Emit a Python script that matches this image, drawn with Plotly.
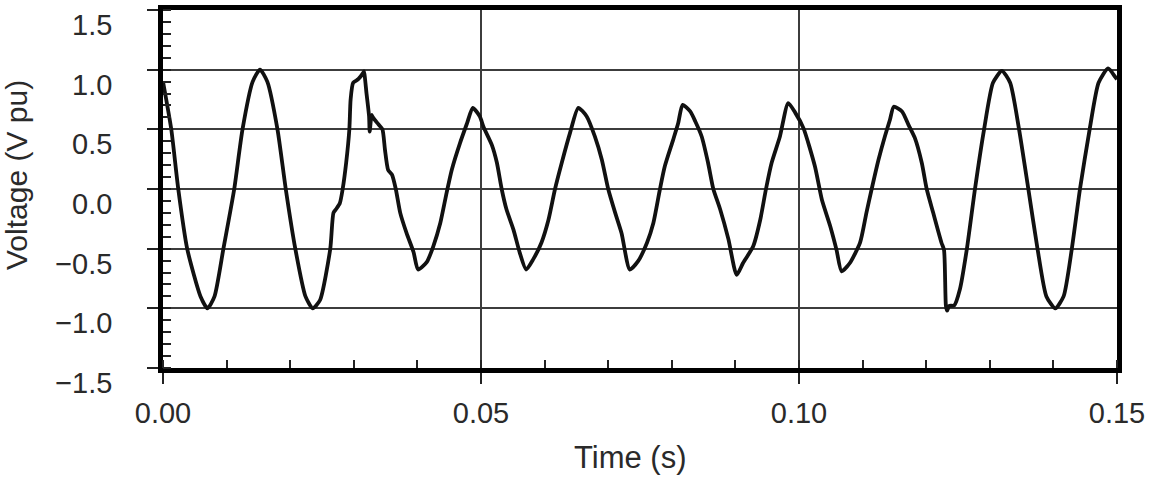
import plotly.graph_objects as go

# Time (s) and voltage (V pu)
time_s = [
    0.0000, 0.0013, 0.0024, 0.0038, 0.0059, 0.0070, 0.0081, 0.0095, 0.0112, 0.0125,
    0.0141, 0.01525, 0.0164, 0.0180, 0.0193, 0.0208, 0.0224, 0.02354, 0.0247, 0.0263,
    0.0268, 0.0272, 0.0278, 0.02825, 0.0288, 0.0293, 0.0295, 0.0299, 0.0307, 0.0315,
    0.0316, 0.0320, 0.0324, 0.0325, 0.0328, 0.0330, 0.0339, 0.0345, 0.0349, 0.0354,
    0.0360, 0.0366, 0.0373, 0.0383, 0.0394, 0.0401, 0.0415, 0.0425, 0.0436, 0.0446,
    0.0454, 0.0467, 0.0478, 0.0487, 0.0498, 0.0504, 0.0517, 0.0525, 0.05325, 0.0540,
    0.0551, 0.0561, 0.0571, 0.0582, 0.0595, 0.0606, 0.06164, 0.0627, 0.0640, 0.0653,
    0.0666, 0.0679, 0.0690, 0.0700, 0.0711, 0.0721, 0.0734, 0.0747, 0.0761, 0.0771,
    0.07814, 0.0789, 0.0802, 0.0810, 0.0817, 0.0829, 0.0837, 0.0847, 0.0857, 0.08653,
    0.0876, 0.0889, 0.0902, 0.0912, 0.0928, 0.0939, 0.09481, 0.0957, 0.0970, 0.0983,
    0.0994, 0.1007, 0.1025, 0.1036, 0.1049, 0.1059, 0.1067, 0.1080, 0.1096, 0.1106,
    0.11143, 0.1125, 0.1135, 0.1143, 0.1149, 0.1162, 0.1172, 0.1182, 0.1193, 0.12008,
    0.1211, 0.1224, 0.1228, 0.1231, 0.1233, 0.1236, 0.1244, 0.1253, 0.1264, 0.12767,
    0.1291, 0.1305, 0.1319, 0.1332, 0.1346, 0.13606, 0.1375, 0.1389, 0.1403, 0.1416,
    0.1429, 0.14418, 0.1457, 0.1471, 0.1486, 0.1497, 0.1500,
]
voltage_pu = [
    0.90, 0.50, 0.00, -0.50, -0.90, -1.00, -0.90, -0.50, 0.00, 0.50,
    0.90, 1.00, 0.90, 0.50, 0.00, -0.50, -0.90, -1.00, -0.93, -0.50,
    -0.20, -0.17, -0.12, 0.00, 0.22, 0.50, 0.75, 0.89, 0.92, 0.975,
    0.985, 0.80, 0.61, 0.48, 0.62, 0.60, 0.54, 0.50, 0.33, 0.16,
    0.12, 0.00, -0.20, -0.37, -0.53, -0.675, -0.61, -0.48, -0.285, -0.03,
    0.16, 0.385, 0.55, 0.68, 0.61, 0.52, 0.37, 0.22, 0.00, -0.17,
    -0.34, -0.535, -0.675, -0.59, -0.45, -0.26, 0.00, 0.22, 0.47, 0.68,
    0.61, 0.44, 0.245, 0.00, -0.20, -0.37, -0.675, -0.605, -0.45, -0.285,
    0.00, 0.19, 0.41, 0.55, 0.705, 0.65, 0.566, 0.44, 0.22, 0.00,
    -0.17, -0.42, -0.72, -0.62, -0.48, -0.26, 0.00, 0.22, 0.44, 0.72,
    0.64, 0.51, 0.19, -0.09, -0.31, -0.51, -0.69, -0.62, -0.45, -0.20,
    0.00, 0.245, 0.44, 0.58, 0.69, 0.65, 0.54, 0.43, 0.22, 0.00,
    -0.20, -0.45, -0.51, -0.98, -1.02, -0.98, -0.976, -0.84, -0.50, 0.00,
    0.50, 0.89, 0.99, 0.89, 0.50, 0.00, -0.50, -0.90, -1.00, -0.90,
    -0.50, 0.00, 0.50, 0.89, 1.01, 0.94, 0.92,
]

x_tickvals = [0.0, 0.05, 0.10, 0.15]
x_ticktext = ["0.00", "0.05", "0.10", "0.15"]
y_tickvals = [-1.5, -1.0, -0.5, 0.0, 0.5, 1.0, 1.5]
y_ticktext = ["\u22121.5", "\u22121.0", "\u22120.5", "0.0", "0.5", "1.0", "1.5"]

FONT = "Liberation Sans, Arial, Helvetica, sans-serif"
TXT = "#2a2a2a"

fig = go.Figure()
fig.add_trace(go.Scatter(
    x=time_s, y=voltage_pu, mode="lines",
    line=dict(color="#111111", width=3.8, shape="spline", smoothing=0.6),
    showlegend=False, hoverinfo="skip",
))

fig.update_layout(
    width=1150, height=477,
    margin=dict(l=163, r=33, t=10, b=109, autoexpand=False),
    paper_bgcolor="white", plot_bgcolor="white",
    font=dict(family=FONT, size=29, color=TXT),
    xaxis=dict(
        range=[0, 0.15], tickvals=x_tickvals, ticktext=x_ticktext,
        tickfont=dict(size=29), automargin=False,
        showgrid=True, gridcolor="#3c3c3c", gridwidth=1.6,
        showline=True, linecolor="black", linewidth=4.5, mirror=True,
        ticks="outside", ticklen=11, tickwidth=1.5, tickcolor="#222",
        ticklabelstandoff=4,
        minor=dict(ticks="inside", dtick=0.01, ticklen=8, tickwidth=1.5,
                   tickcolor="#222", showgrid=False),
        zeroline=False,
    ),
    yaxis=dict(
        range=[-1.5, 1.5], tickvals=y_tickvals, ticktext=y_ticktext,
        tickfont=dict(size=29), automargin=False,
        showgrid=True, gridcolor="#3c3c3c", gridwidth=1.6,
        showline=True, linecolor="black", linewidth=4.5, mirror=True,
        ticks="outside", ticklen=11, tickwidth=1.5, tickcolor="#222",
        ticklabelstandoff=29, ticklabelshift=15, ticklabeloverflow="allow",
        minor=dict(ticks="inside", dtick=0.1, ticklen=8, tickwidth=1.5,
                   tickcolor="#222", showgrid=False),
        zeroline=False,
    ),
    annotations=[
        dict(text="Time (s)", xref="paper", yref="paper",
             x=(630 - 163) / 954, y=(368 - 457) / 358,
             xanchor="center", yanchor="middle", showarrow=False,
             font=dict(family=FONT, size=31, color=TXT)),
        dict(text="Voltage (V pu)", xref="paper", yref="paper",
             x=(16 - 163) / 954, y=(368 - 175) / 358, textangle=-90,
             xanchor="center", yanchor="middle", showarrow=False,
             font=dict(family=FONT, size=30, color=TXT)),
    ],
)

fig.write_html("out.html")
